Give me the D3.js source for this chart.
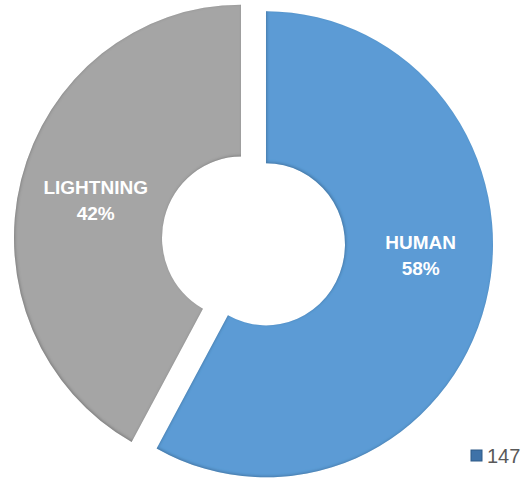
<!DOCTYPE html>
<html>
<head>
<meta charset="utf-8">
<script src="https://cdn.jsdelivr.net/npm/d3@7"></script>
<style>
  html, body { margin: 0; padding: 0; background: #fff; }
  svg { display: block; }
</style>
</head>
<body>
<svg></svg>
<script>
// data
var categories = ['HUMAN', 'LIGHTNING'];
var shares = [58, 42];
var seriesName = '147';
var colors = ['#5B9BD5', '#A5A5A5'];

var width = 524, height = 483;
var svg = d3.select('svg').attr('width', width).attr('height', height);

var cx = 253.5, cy = 241,
    rOuter = 227, rInner = 79,
    sy = 233 / 227,      // slightly taller than wide
    explode = 12.9;

var defs = svg.append('defs');
var f = defs.append('filter').attr('id', 'inset')
    .attr('x', '-5%').attr('y', '-5%').attr('width', '110%').attr('height', '110%');
f.append('feComponentTransfer').attr('in', 'SourceAlpha').attr('result', 'inv')
    .append('feFuncA').attr('type', 'table').attr('tableValues', '1 0');
f.append('feGaussianBlur').attr('in', 'inv').attr('stdDeviation', 1.6).attr('result', 'blur');
f.append('feOffset').attr('in', 'blur').attr('dx', 0.5).attr('dy', -0.5).attr('result', 'off');
f.append('feFlood').attr('flood-color', '#000').attr('flood-opacity', 0.45).attr('result', 'col');
f.append('feComposite').attr('in', 'col').attr('in2', 'off').attr('operator', 'in').attr('result', 'sh');
f.append('feComposite').attr('in', 'sh').attr('in2', 'SourceAlpha').attr('operator', 'in').attr('result', 'shIn');
var m = f.append('feMerge');
m.append('feMergeNode').attr('in', 'SourceGraphic');
m.append('feMergeNode').attr('in', 'shIn');

var pie = d3.pie().sort(null).value((d) => d);
var arc = d3.arc().innerRadius(rInner).outerRadius(rOuter);
var arcs = pie(shares);

function sliceCenter(d) {
    var mid = (d.startAngle + d.endAngle) / 2;
    return [cx + explode * Math.sin(mid), cy - explode * Math.cos(mid) * sy];
}

var slices = svg.append('g').attr('class', 'slices')
    .selectAll('g')
    .data(arcs)
    .enter()
    .append('g')
        .attr('transform', (d) => {
            var c = sliceCenter(d);
            return 'translate(' + c[0] + ',' + c[1] + ') scale(1,' + sy + ')';
        });
slices.append('path')
    .attr('d', arc)
    .attr('fill', (d, i) => colors[i])
    .attr('filter', 'url(#inset)');

// labels: ring midpoint; the big slice's label sits near its horizontal
var rLabel = (rOuter + rInner) / 2;
function labelPos(d) {
    var c = sliceCenter(d);
    var a = (d.startAngle + d.endAngle) / 2;
    if (d.endAngle - d.startAngle > Math.PI) a = Math.PI / 2 + 0.06;
    var r = d.index === 0 ? rLabel + 2 : rLabel - 3;
    return [c[0] + r * Math.sin(a), c[1] - r * Math.cos(a) * sy];
}

var labels = svg.append('g').attr('class', 'labels')
    .selectAll('text')
    .data(arcs)
    .enter()
    .append('text')
        .attr('text-anchor', 'middle')
        .attr('fill', '#fff')
        .style('font-family', "'Liberation Sans', Arial, sans-serif")
        .style('font-weight', 'bold')
        .style('font-size', '19px');
labels.append('tspan')
    .attr('x', (d) => labelPos(d)[0])
    .attr('y', (d) => labelPos(d)[1] - 5)
    .text((d, i) => categories[i]);
labels.append('tspan')
    .attr('x', (d) => labelPos(d)[0])
    .attr('y', (d) => labelPos(d)[1] + 21)
    .text((d) => d.value + '%');

// legend
var legend = svg.append('g').attr('transform', 'translate(471,450)');
legend.append('rect')
    .attr('width', 11).attr('height', 11)
    .attr('fill', '#3F72A8')
    .attr('stroke', '#2E5A87').attr('stroke-width', 1);
legend.append('text')
    .attr('x', 16).attr('y', 13)
    .attr('fill', '#595959')
    .style('font-family', "'Liberation Sans', Arial, sans-serif")
    .style('font-size', '20px')
    .text(seriesName);
</script>
</body>
</html>
